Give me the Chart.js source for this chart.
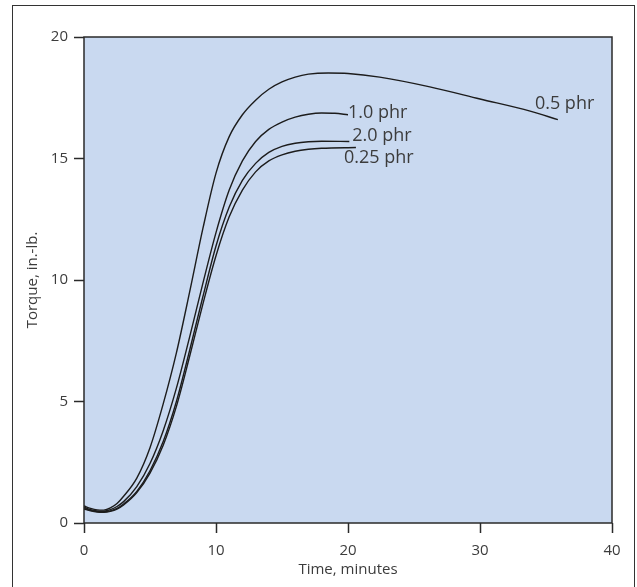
<!DOCTYPE html>
<html>
<head>
<meta charset="utf-8">
<script src="https://cdn.jsdelivr.net/npm/chart.js@4/dist/chart.umd.min.js"></script>
<style>
  html, body { margin: 0; padding: 0; background: #ffffff; }
  #wrap { width: 637px; height: 587px; position: relative; }
</style>
</head>
<body>
<div id="wrap"><canvas id="c" width="637" height="587"></canvas></div>
<script>
// Cure curves: torque (in.-lb.) against time (minutes) for four accelerator levels
const seriesNames = ['0.5 phr', '1.0 phr', '2.0 phr', '0.25 phr'];

const time05 = [0, 0.5, 1, 1.5, 2, 2.5, 3, 4, 5, 6, 7, 8, 9, 10, 11, 12, 13, 14, 15, 16, 17, 18.5, 20, 22.4, 26.2, 30, 33.8, 35.9];
const torque05 = [0.7, 0.6, 0.54, 0.53, 0.62, 0.8, 1.1, 1.85, 3.1, 4.9, 7.0, 9.5, 12.1, 14.4, 15.9, 16.8, 17.4, 17.85, 18.15, 18.35, 18.47, 18.52, 18.5, 18.35, 17.95, 17.45, 16.95, 16.6];

const time10 = [0, 0.5, 1, 1.5, 2, 2.5, 3, 4, 5, 6, 7, 8, 9, 10, 11, 12, 13, 14, 15, 16, 17, 18, 19, 20];
const torque10 = [0.65, 0.55, 0.5, 0.49, 0.55, 0.68, 0.88, 1.5, 2.45, 3.8, 5.55, 7.65, 9.85, 11.95, 13.7, 14.9, 15.7, 16.2, 16.5, 16.7, 16.82, 16.87, 16.86, 16.8];

const time20 = [0, 0.5, 1, 1.5, 2, 2.5, 3, 4, 5, 6, 7, 8, 9, 10, 11, 12, 13, 14, 15, 16, 17, 18, 20.1];
const torque20 = [0.6, 0.52, 0.47, 0.46, 0.5, 0.6, 0.78, 1.3, 2.15, 3.35, 5.0, 7.1, 9.3, 11.4, 13.0, 14.1, 14.8, 15.25, 15.5, 15.63, 15.69, 15.71, 15.7];

const time025 = [0, 0.5, 1, 1.5, 2, 2.5, 3, 4, 5, 6, 7, 8, 9, 10, 11, 12, 13, 14, 15, 16, 17, 18, 20.6];
const torque025 = [0.58, 0.5, 0.45, 0.44, 0.48, 0.57, 0.74, 1.25, 2.05, 3.2, 4.8, 6.85, 9.0, 11.0, 12.6, 13.7, 14.45, 14.9, 15.15, 15.3, 15.38, 15.42, 15.45];

const xTicks = [0, 10, 20, 30, 40];
const yTicks = [0, 5, 10, 15, 20];

const textColor = '#3c3c3c';
const fontFamily = '"Open Sans", "DejaVu Sans", sans-serif';

function pts(xs, ys) { return xs.map((x, i) => ({ x: x, y: ys[i] })); }

function lineSet(label, xs, ys) {
  return {
    label: label,
    data: pts(xs, ys),
    borderColor: '#1c1c1c',
    borderWidth: 1.4,
    pointRadius: 0,
    fill: false,
    cubicInterpolationMode: 'monotone'
  };
}

// label offsets (pixels) from each curve's final point
const labelOffsets = [
  { dx: -23, dy: -16 },
  { dx: 0, dy: -2 },
  { dx: 3, dy: -6 },
  { dx: -12, dy: 10 }
];

const framePlugin = {
  id: 'frame',
  beforeDraw(chart) {
    const { ctx, chartArea: a } = chart;
    ctx.save();
    ctx.fillStyle = '#c9d9f0';
    ctx.fillRect(a.left, a.top, a.right - a.left, a.bottom - a.top);
    ctx.restore();
  },
  afterDraw(chart) {
    const { ctx, chartArea: a } = chart;
    ctx.save();
    ctx.strokeStyle = '#2a2a2a';
    ctx.lineWidth = 1.5;
    ctx.strokeRect(a.left, a.top, a.right - a.left, a.bottom - a.top);
    // outer figure frame
    ctx.lineWidth = 1;
    ctx.strokeStyle = '#333333';
    ctx.strokeRect(12.5, 5.5, 622, 620);
    // series labels next to curve ends
    ctx.fillStyle = textColor;
    ctx.font = '18px ' + fontFamily;
    ctx.textAlign = 'left';
    ctx.textBaseline = 'middle';
    chart.data.datasets.forEach((ds, i) => {
      const last = ds.data[ds.data.length - 1];
      const px = chart.scales.x.getPixelForValue(last.x) + labelOffsets[i].dx;
      const py = chart.scales.y.getPixelForValue(last.y) + labelOffsets[i].dy;
      ctx.fillText(ds.label, px, py);
    });
    ctx.restore();
  }
};

new Chart(document.getElementById('c'), {
  type: 'line',
  data: {
    datasets: [
      lineSet(seriesNames[0], time05, torque05),
      lineSet(seriesNames[1], time10, torque10),
      lineSet(seriesNames[2], time20, torque20),
      lineSet(seriesNames[3], time025, torque025)
    ]
  },
  options: {
    responsive: false,
    animation: false,
    layout: { padding: { top: 37, right: 25, left: 24, bottom: 0 } },
    plugins: { legend: { display: false }, tooltip: { enabled: false } },
    scales: {
      x: {
        type: 'linear',
        min: 0, max: 40,
        afterBuildTicks(s) { s.ticks = xTicks.map(v => ({ value: v })); },
        afterFit(s) { s.height = 64; },
        grid: { drawOnChartArea: false, tickLength: 10, tickColor: '#2a2a2a', tickWidth: 1.5 },
        border: { display: false },
        ticks: { color: textColor, font: { family: fontFamily, size: 15 }, padding: 9 },
        title: { display: true, text: 'Time, minutes', color: textColor, font: { family: fontFamily, size: 15 }, padding: { top: 0, bottom: 8 } }
      },
      y: {
        min: 0, max: 20,
        afterBuildTicks(s) { s.ticks = yTicks.map(v => ({ value: v })); },
        afterFit(s) { s.width = 60; },
        grid: { drawOnChartArea: false, tickLength: 10, tickColor: '#2a2a2a', tickWidth: 1.5 },
        border: { display: false },
        ticks: { color: textColor, font: { family: fontFamily, size: 15 }, padding: 6 },
        title: { display: true, text: 'Torque, in.-lb.', color: textColor, font: { family: fontFamily, size: 15 }, padding: { top: 0, bottom: 0 } }
      }
    }
  },
  plugins: [framePlugin]
});
</script>
</body>
</html>
